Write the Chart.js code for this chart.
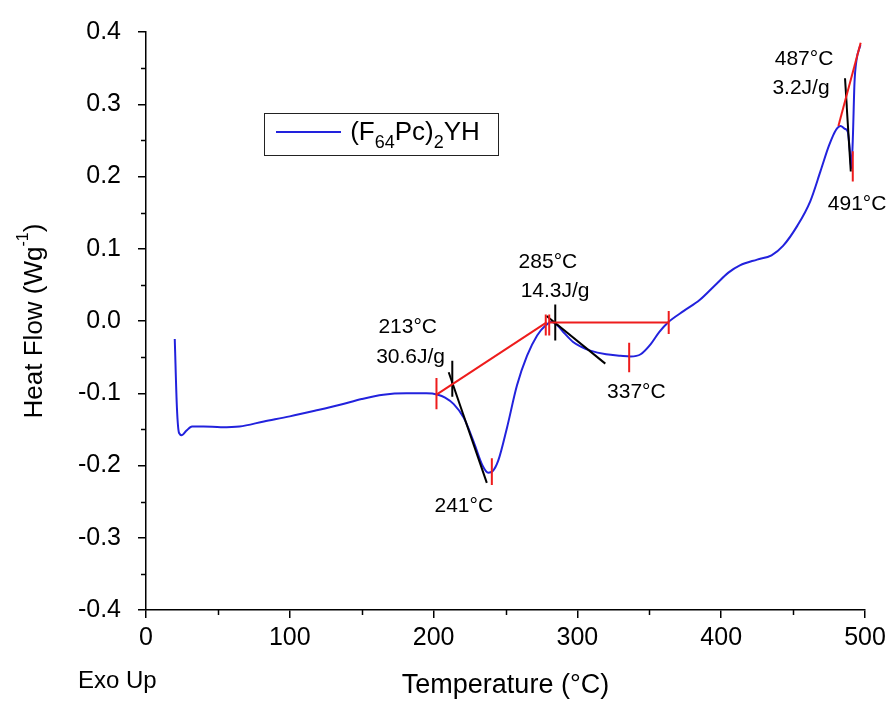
<!DOCTYPE html>
<html>
<head>
<meta charset="utf-8">
<script src="https://cdn.jsdelivr.net/npm/chart.js@4.4.1/dist/chart.umd.min.js"></script>
<style>
  html, body { margin: 0; padding: 0; background: #fff; }
  #wrap { width: 891px; height: 704px; }
</style>
</head>
<body>
<div id="wrap"><canvas id="dscChart" width="891" height="704"></canvas></div>
<script>
// DSC trace of (F64Pc)2YH
const temps = [20, 21.5, 23, 25, 28, 32, 40, 52, 65, 82, 100, 118, 135, 150, 165, 181, 195, 203,
  208, 214, 221, 228, 234, 238, 241, 245, 251, 258, 265, 272, 278, 282, 286, 291, 297, 303, 309,
  320, 330, 337, 344, 351, 357, 363, 374, 385, 397, 405, 413, 425, 435, 443, 453, 462, 469, 475,
  480, 483, 486, 488, 489.5, 490.5, 491.5, 492.7, 494, 496.8];
const heatFlow = [-0.025, -0.12, -0.155, -0.158, -0.152, -0.146, -0.146, -0.147, -0.146, -0.139,
  -0.132, -0.124, -0.116, -0.108, -0.102, -0.100, -0.100, -0.102,
  -0.106, -0.115, -0.134, -0.168, -0.200, -0.210, -0.208, -0.193, -0.148, -0.089, -0.048, -0.020,
  -0.006, -0.001, -0.006, -0.017, -0.029, -0.036, -0.041,
  -0.046, -0.048, -0.049, -0.046, -0.032, -0.015, -0.002, 0.014, 0.029, 0.052, 0.067, 0.077, 0.085,
  0.091, 0.104, 0.132, 0.166, 0.207, 0.243,
  0.265, 0.270, 0.266, 0.262, 0.235, 0.211, 0.25, 0.33, 0.36, 0.382];

// integration baselines and peak markers (red)
const baselines = [
  [[202, -0.102], [278.6, -0.002]],
  [[281, -0.002], [363.5, -0.002]],
  [[481.5, 0.27], [497, 0.385]]
];
const peakMarks = [
  [[202, -0.079], [202, -0.122]],
  [[240.5, -0.19], [240.5, -0.227]],
  [[278, 0.009], [278, -0.02]],
  [[280.4, 0.009], [280.4, -0.02]],
  [[336, -0.03], [336, -0.071]],
  [[363.5, 0.014], [363.5, -0.018]],
  [[491.5, 0.235], [491.5, 0.193]]
];
// onset tangents (black)
const tangents = [
  [[213, -0.055], [213, -0.105]],
  [[210.5, -0.071], [237, -0.224]],
  [[284.6, 0.023], [284.6, -0.027]],
  [[278.6, 0.007], [319.4, -0.059]],
  [[486.1, 0.336], [490.1, 0.207]]
];
const noteText = ["213°C", "30.6J/g", "241°C", "285°C", "14.3J/g", "337°C", "487°C", "3.2J/g", "491°C"];
const noteAt = [[182, -0.009], [184, -0.05], [221, -0.256], [279.5, 0.082], [284.5, 0.041],
  [341, -0.099], [457.6, 0.363], [455.5, 0.322], [494.5, 0.161]];

const FONT = "'Liberation Sans', Arial, sans-serif";

function segSet(seg, color) {
  return {
    data: seg.map(([x, y]) => ({ x, y })),
    borderColor: color,
    borderWidth: 2,
    pointRadius: 0,
    tension: 0,
    order: 1
  };
}

// draws text made of normal / sub / superscript pieces, centred on (x, y)
function richText(ctx, parts, x, y) {
  let total = 0;
  parts.forEach(p => {
    ctx.font = p.size + "px " + FONT;
    p.w = ctx.measureText(p.t).width;
    total += p.w;
  });
  let cx = x - total / 2;
  ctx.textAlign = "left";
  ctx.textBaseline = "middle";
  parts.forEach(p => {
    ctx.font = p.size + "px " + FONT;
    ctx.fillText(p.t, cx, y + (p.dy || 0));
    cx += p.w;
  });
}

const extras = {
  id: "extras",
  afterDraw(chart) {
    const ctx = chart.ctx;
    const xs = chart.scales.x, ys = chart.scales.y;
    const area = chart.chartArea;
    ctx.save();
    ctx.strokeStyle = "#000";
    ctx.lineWidth = 1.5;
    // minor ticks
    for (let v = 50; v < 500; v += 100) {
      const px = Math.round(xs.getPixelForValue(v)) + 0.5;
      ctx.beginPath();
      ctx.moveTo(px, area.bottom);
      ctx.lineTo(px, area.bottom + 5);
      ctx.stroke();
    }
    for (let v = -0.35; v < 0.4; v += 0.1) {
      const py = Math.round(ys.getPixelForValue(v)) + 0.5;
      ctx.beginPath();
      ctx.moveTo(area.left, py);
      ctx.lineTo(area.left - 5, py);
      ctx.stroke();
    }

    // peak annotations
    ctx.fillStyle = "#000";
    ctx.font = "21px " + FONT;
    ctx.textAlign = "center";
    ctx.textBaseline = "middle";
    noteText.forEach((t, i) => {
      ctx.fillText(t, xs.getPixelForValue(noteAt[i][0]), ys.getPixelForValue(noteAt[i][1]));
    });

    // legend box
    ctx.lineWidth = 1;
    ctx.strokeStyle = "#222";
    ctx.strokeRect(264.5, 113.5, 234, 42);
    ctx.strokeStyle = "#2222dd";
    ctx.lineWidth = 2;
    ctx.beginPath();
    ctx.moveTo(276, 132);
    ctx.lineTo(341, 132);
    ctx.stroke();
    richText(ctx, [
      { t: "(F", size: 26 },
      { t: "64", size: 18, dy: 10 },
      { t: "Pc)", size: 26 },
      { t: "2", size: 18, dy: 10 },
      { t: "YH", size: 26 }
    ], 415, 133);

    // y axis title
    ctx.save();
    ctx.translate(35, (area.top + area.bottom) / 2);
    ctx.rotate(-Math.PI / 2);
    richText(ctx, [
      { t: "Heat Flow (Wg", size: 26 },
      { t: "-1", size: 16, dy: -11 },
      { t: ")", size: 26 }
    ], 0, 0);
    ctx.restore();

    ctx.font = "24px " + FONT;
    ctx.textAlign = "left";
    ctx.fillText("Exo Up", 78, 681);
    ctx.restore();
  }
};

const datasets = [{
  data: temps.map((t, i) => ({ x: t, y: heatFlow[i] })),
  borderColor: "#2222dd",
  borderWidth: 2,
  pointRadius: 0,
  cubicInterpolationMode: "monotone",
  order: 2
}];
baselines.concat(peakMarks).forEach(s => datasets.push(segSet(s, "#ee1c1c")));
tangents.forEach(s => datasets.push(segSet(s, "#000")));

const config = {
  type: "line",
  data: { datasets: datasets },
  options: {
    responsive: false,
    animation: false,
    layout: { padding: { top: 22, right: 26, left: 0, bottom: 0 } },
    plugins: { legend: { display: false }, tooltip: { enabled: false } },
    scales: {
      x: {
        type: "linear",
        min: 0,
        max: 500,
        afterFit: (s) => { s.height = 94; },
        border: { display: true, color: "#000", width: 1.5 },
        grid: { drawOnChartArea: false, drawTicks: true, tickLength: 8, color: "#000", lineWidth: 1.5 },
        ticks: { stepSize: 100, padding: 5, color: "#000", font: { family: FONT, size: 25 } },
        title: {
          display: true,
          text: "Temperature (°C)",
          color: "#000",
          font: { family: FONT, size: 27 },
          padding: { top: 0, bottom: 2 }
        }
      },
      y: {
        min: -0.4,
        max: 0.4,
        afterFit: (s) => { s.width = 146; },
        border: { display: true, color: "#000", width: 1.5 },
        grid: { drawOnChartArea: false, drawTicks: true, tickLength: 8, color: "#000", lineWidth: 1.5 },
        ticks: {
          stepSize: 0.1,
          padding: 17,
          color: "#000",
          font: { family: FONT, size: 25 },
          callback: (v) => v.toFixed(1)
        }
      }
    }
  },
  plugins: [extras]
};

const dscChart = new Chart(document.getElementById("dscChart"), config);
</script>
</body>
</html>
